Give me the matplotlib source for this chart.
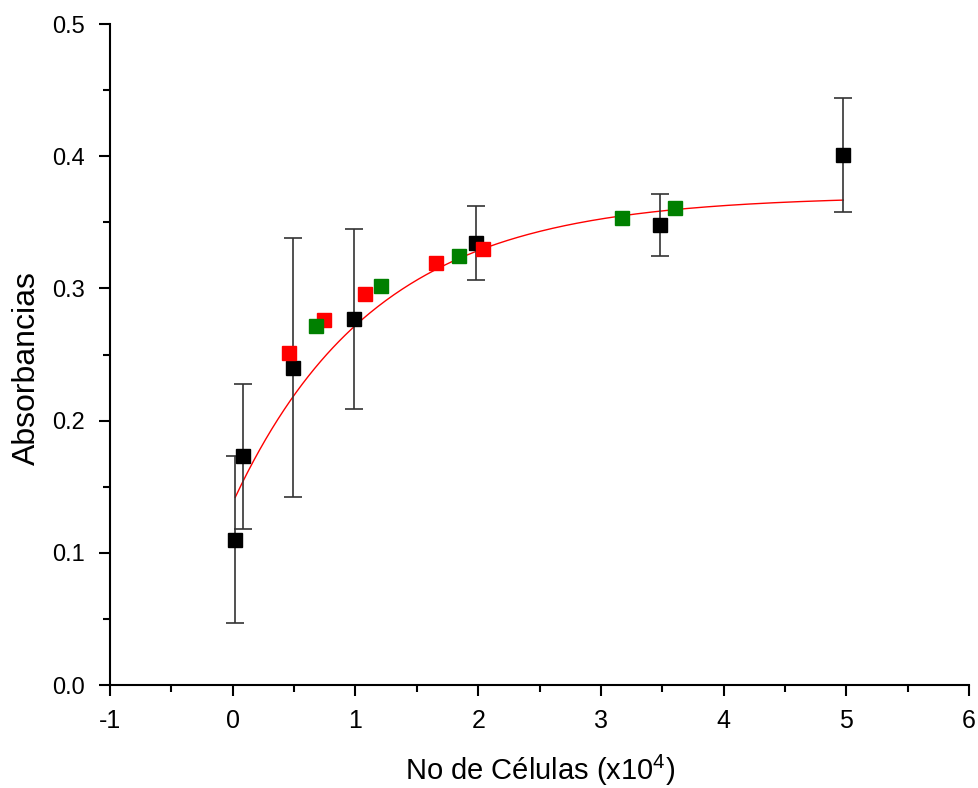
import numpy as np
import matplotlib
matplotlib.use("Agg")
import matplotlib.pyplot as plt
from matplotlib.ticker import MultipleLocator

# Black series with error bars
bx = [0.02, 0.085, 0.49, 0.985, 1.98, 3.48, 4.975]
by = [0.110, 0.173, 0.240, 0.277, 0.334, 0.348, 0.401]
berr = [0.063, 0.055, 0.098, 0.068, 0.028, 0.0235, 0.043]

# Red series
rx = [0.458, 0.742, 1.075, 1.66, 2.04]
ry = [0.251, 0.276, 0.296, 0.319, 0.330]

# Green series
gx = [0.677, 1.204, 1.845, 3.175, 3.605]
gy = [0.2716, 0.302, 0.3245, 0.353, 0.361]

# Exponential fit parameters: y = y0 + A*(1 - exp(-x/t))
fit_y0, fit_A, fit_t = 0.138, 0.232, 1.16
fit_xmin, fit_xmax = 0.02, 4.975

plt.rcParams['font.family'] = ['Liberation Sans', 'DejaVu Sans']
plt.rcParams['axes.unicode_minus'] = False
plt.rcParams['mathtext.fontset'] = 'custom'
plt.rcParams['mathtext.rm'] = 'Liberation Sans'

fig = plt.figure(figsize=(9.79, 7.88), dpi=100)
ax = fig.add_axes([0.1124, 0.1307, 0.8775, 0.8388])

xf = np.linspace(fit_xmin, fit_xmax, 300)
yf = fit_y0 + fit_A * (1 - np.exp(-xf / fit_t))
ax.plot(xf, yf, color='red', lw=1, zorder=2)

ax.errorbar(bx, by, yerr=berr, fmt='none', ecolor='#333333', elinewidth=1.2,
            capsize=6.5, capthick=1.2, zorder=3)
ms = 9.5
ax.plot(bx, by, 's', color='black', ms=ms, mec='black', zorder=4)
ax.plot(rx, ry, 's', color='red', ms=ms, mec='red', zorder=4)
ax.plot(gx, gy, 's', color='green', ms=ms, mec='green', zorder=4)

ax.set_xlim(-1, 6)
ax.set_ylim(0, 0.5)
ax.xaxis.set_major_locator(MultipleLocator(1))
ax.xaxis.set_minor_locator(MultipleLocator(0.5))
ax.yaxis.set_minor_locator(MultipleLocator(0.05))
ax.set_yticks([0, 0.1, 0.2, 0.3, 0.4, 0.5])
ax.set_yticklabels(['0.0', '0.1', '0.2', '0.3', '0.4', '0.5'])

for s in ['top', 'right']:
    ax.spines[s].set_visible(False)
for s in ['left', 'bottom']:
    ax.spines[s].set_linewidth(1.5)

ax.tick_params(which='major', direction='out', length=8, width=1.5, labelsize=17)
ax.tick_params(axis='x', which='major', labelsize=18, pad=9)
ax.tick_params(axis='y', which='major', pad=10)
ax.tick_params(which='minor', direction='out', length=5, width=1.5)

ax.set_xlabel('No de Células (x10$\\mathregular{^{4}}$)', fontsize=21)
ax.set_ylabel('Absorbancias', fontsize=23)
ax.xaxis.set_label_coords(0.5, -0.102)
ax.yaxis.set_label_coords(-0.079, 0.48)

fig.savefig('out.png', dpi=100)
